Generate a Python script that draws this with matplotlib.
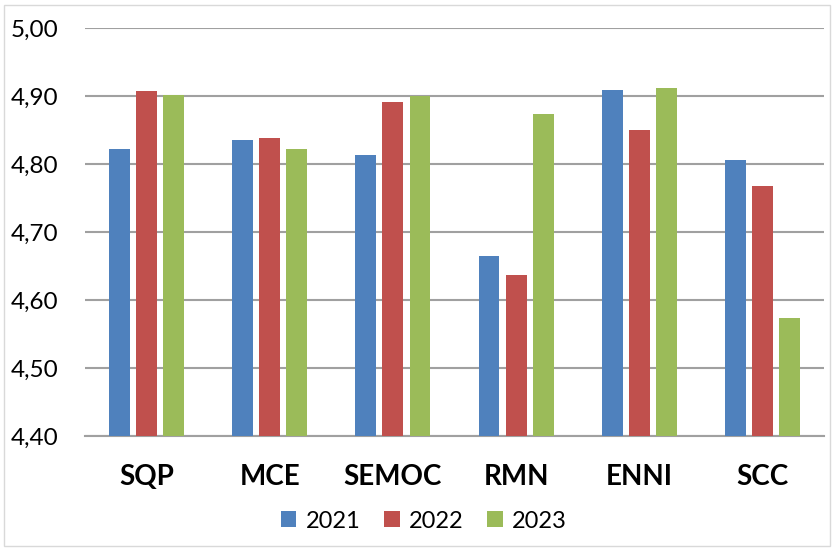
import matplotlib
matplotlib.use("Agg")
import matplotlib.pyplot as plt
import numpy as np
from matplotlib.patches import Rectangle

categories = ["SQP", "MCE", "SEMOC", "RMN", "ENNI", "SCC"]
years = ["2021", "2022", "2023"]
v2021 = [4.822, 4.835, 4.813, 4.665, 4.909, 4.806]
v2022 = [4.908, 4.838, 4.891, 4.637, 4.850, 4.768]
v2023 = [4.902, 4.822, 4.900, 4.874, 4.912, 4.574]
colors = ["#4F81BD", "#C0504D", "#9BBB59"]
yticks = [4.40, 4.50, 4.60, 4.70, 4.80, 4.90, 5.00]

plt.rcParams['font.family'] = ['Lato', 'DejaVu Sans']

fig = plt.figure(figsize=(8.33, 5.49), dpi=100)
ax = fig.add_axes([85/833, 1-436/549, (824-85)/833, (436-28)/549])

x = np.arange(len(categories))
w = 0.17
off = 0.22
base = 4.40
for i, (vals, c, lab) in enumerate(zip([v2021, v2022, v2023], colors, years)):
    ax.bar(x + (i-1)*off, np.array(vals)-base, bottom=base, width=w, color=c, label=lab, zorder=3)

ax.set_xlim(-0.5, len(categories)-0.5)
ax.set_ylim(4.40, 5.00)
ax.set_yticks(yticks)
ax.set_yticklabels([f"{t:.2f}".replace(".", ",") for t in yticks], fontsize=17.5)
ax.set_xticks(x)
ax.set_xticklabels(categories, fontsize=20, fontweight='bold')
ax.tick_params(axis='y', length=0, pad=19)
ax.tick_params(axis='x', length=0, pad=20)
for s in ["top", "right", "left"]:
    ax.spines[s].set_visible(False)
ax.spines["bottom"].set_color("#A0A0A0")
ax.spines["bottom"].set_linewidth(1.5)
ax.yaxis.grid(True, color="#A0A0A0", linewidth=1.5, zorder=0)
ax.set_axisbelow(True)

leg = fig.legend(loc='center', bbox_to_anchor=(424/833, 1-521/549), ncol=3, frameon=False,
                 fontsize=17, handlelength=0.65, handleheight=0.65, handletextpad=0.4, columnspacing=1.0)

fig.patches.append(Rectangle((4/833, 1-546/549), 826/833, 541/549, transform=fig.transFigure,
                             fill=False, edgecolor="#D9D9D9", linewidth=1))

fig.savefig("out.png", dpi=100)
